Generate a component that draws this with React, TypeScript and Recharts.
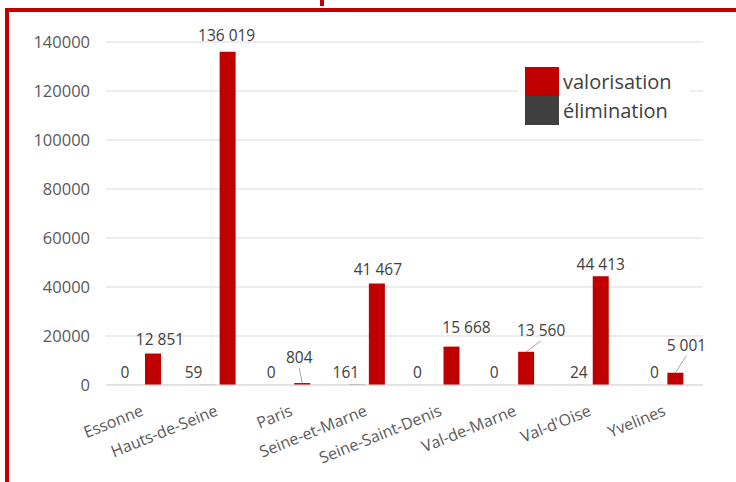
import React from 'react';
import { BarChart, Bar, XAxis, YAxis, CartesianGrid, LabelList } from 'recharts';

const departements = [
  'Essonne',
  'Hauts-de-Seine',
  'Paris',
  'Seine-et-Marne',
  'Seine-Saint-Denis',
  'Val-de-Marne',
  "Val-d'Oise",
  'Yvelines',
];
const elimination = [0, 59, 0, 161, 0, 0, 24, 0];
const valorisation = [12851, 136019, 804, 41467, 15668, 13560, 44413, 5001];
const yTicks = [0, 20000, 40000, 60000, 80000, 100000, 120000, 140000];

const RED = '#C00000';
const DARK = '#404040';
const FONT = '"Open Sans", sans-serif';

const data = departements.map((name, i) => ({
  name,
  elimination: elimination[i],
  valorisation: valorisation[i],
}));

// label nudges (Excel labels were moved by hand), relative to bar top center
const valShift: [number, number, boolean][] = [
  [7, -15, false],
  [-1, -17, false],
  [-3, -26, true],
  [1, -14, false],
  [15, -20, false],
  [15, -22, true],
  [0, -12, false],
  [11, -28, true],
];
const elimShift = [-8, -14, -11, -11, -14, -12, -2, -1];

// formats 136019 -> "136 019"
const fmt = (v: number) => String(v).replace(/\B(?=(\d{3})+(?!\d))/g, ' ');

const ValLabel = (props: any) => {
  const { x, y, width, value, index } = props;
  const [dx, dy, leader] = valShift[index];
  const cx = x + width / 2;
  const lx = cx + dx;
  const ly = y + dy;
  return (
    <g>
      {leader && (
        <line x1={cx} y1={y} x2={lx} y2={ly + 11} stroke="#a6a6a6" strokeWidth={1} />
      )}
      <text x={lx} y={ly} textAnchor="middle" dominantBaseline="central" fill={DARK} fontSize={15.5} fontFamily={FONT}>
        {fmt(value)}
      </text>
    </g>
  );
};

// zero-height bars get no labels, so the elimination labels hang off the
// valorisation bar next to them (barGap 4 + half a bar)
const ElimLabel = (props: any) => {
  const { x, y, height, value, index } = props;
  const base = y + height;
  return (
    <text x={x - 12 + elimShift[index]} y={base - 13} textAnchor="middle" dominantBaseline="central" fill={DARK} fontSize={15.5} fontFamily={FONT}>
      {fmt(value)}
    </text>
  );
};

const XTick = (props: any) => {
  const { x, y, payload } = props;
  return (
    <g transform={`translate(${x + 1},${y + 22})`}>
      <text textAnchor="end" transform="rotate(-22)" fill="#595959" fontSize={16} fontFamily={FONT}>
        {payload.value}
      </text>
    </g>
  );
};

export default function App() {
  return (
    <div style={{ position: 'absolute', left: 0, top: 0, width: 736, height: 482, background: '#fff', overflow: 'hidden' }}>
      <div style={{ position: 'absolute', left: 320, top: 0, width: 4, height: 6, background: RED }} />
      <div style={{ position: 'absolute', left: 5, top: 8, width: 731, height: 4, background: RED }} />
      <div style={{ position: 'absolute', left: 5, top: 8, width: 4, height: 474, background: RED }} />

      <div style={{ position: 'absolute', left: 0, top: 0 }}>
        <BarChart
          width={736}
          height={482}
          data={data}
          margin={{ top: 42, right: 33, bottom: 0, left: 0 }}
          barSize={16}
          barGap={4}
        >
          <CartesianGrid vertical={false} stroke="#d9d9d9" />
          <XAxis
            dataKey="name"
            height={97}
            interval={0}
            axisLine={{ stroke: '#d9d9d9' }}
            tickLine={false}
            tick={<XTick />}
          />
          <YAxis
            width={106}
            domain={[0, 140000]}
            ticks={yTicks}
            axisLine={false}
            tickLine={false}
            tickMargin={10}
            tick={{ fill: '#595959', fontSize: 16.5, fontFamily: FONT }}
          />
          <Bar dataKey="elimination" fill={DARK} isAnimationActive={false} />
          <Bar dataKey="valorisation" fill={RED} isAnimationActive={false}>
            <LabelList dataKey="valorisation" content={<ValLabel />} />
            <LabelList dataKey="elimination" content={<ElimLabel />} />
          </Bar>
        </BarChart>
      </div>

      <div style={{ position: 'absolute', left: 518, top: 60, width: 172, height: 72, background: '#fff', fontFamily: FONT }}>
        {[
          { name: 'valorisation', color: RED },
          { name: 'élimination', color: DARK },
        ].map((item, i) => (
          <div key={item.name} style={{ position: 'absolute', left: 7, top: 7 + i * 29, display: 'flex', alignItems: 'center' }}>
            <div style={{ width: 34, height: 29, background: item.color }} />
            <span style={{ marginLeft: 4, fontSize: 20, color: DARK, lineHeight: '29px' }}>{item.name}</span>
          </div>
        ))}
      </div>
    </div>
  );
}
